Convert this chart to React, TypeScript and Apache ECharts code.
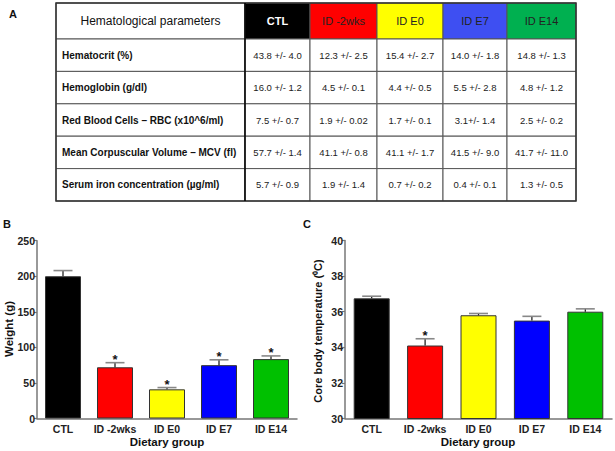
import React, { useEffect, useRef } from "react";
import * as echarts from "echarts";

// ---------- DATA ----------
const categories = ["CTL", "ID -2wks", "ID E0", "ID E7", "ID E14"];
const weightMean = [200, 72, 41, 75, 83.5];
const weightSem = [8, 6.5, 2.5, 7.5, 4.5];
const weightStar = [0, 1, 1, 1, 1];
const tempMean = [36.75, 34.1, 35.8, 35.5, 36.0];
const tempSem = [0.12, 0.38, 0.1, 0.24, 0.16];
const tempStar = [0, 1, 0, 0, 0];

const tableTitle = "Hematological parameters";
const tableParams = [
  "Hematocrit (%)",
  "Hemoglobin (g/dl)",
  "Red Blood Cells \u2013 RBC (x10^6/ml)",
  "Mean Corpuscular Volume \u2013 MCV (fl)",
  "Serum iron concentration (\u00b5g/ml)",
];
const ctlValues = ["43.8 +/- 4.0", "16.0 +/- 1.2", "7.5 +/- 0.7", "57.7 +/- 1.4", "5.7 +/- 0.9"];
const id2wksValues = ["12.3 +/- 2.5", "4.5 +/- 0.1", "1.9 +/- 0.02", "41.1 +/- 0.8", "1.9 +/- 1.4"];
const idE0Values = ["15.4 +/- 2.7", "4.4 +/- 0.5", "1.7 +/- 0.1", "41.1 +/- 1.7", "0.7 +/- 0.2"];
const idE7Values = ["14.0 +/- 1.8", "5.5 +/- 2.8", "3.1+/- 1.4", "41.5 +/- 9.0", "0.4 +/- 0.1"];
const idE14Values = ["14.8 +/- 1.3", "4.8 +/- 1.2", "2.5 +/- 0.2", "41.7 +/- 11.0", "1.3 +/- 0.5"];

// ---------- STYLE ----------
const FONT = "'Liberation Sans', Arial, sans-serif";
const barColors = ["#000000", "#ff0000", "#ffff00", "#0000ff", "#00c000"];
const headerColors = ["#000000", "#ff0000", "#ffff00", "#3e4ff2", "#00b050"];
const headerText = ["#ffffff", "#222222", "#222222", "#222222", "#222222"];
const colEdges = [56, 245, 310, 377, 443, 507, 576];
const rowEdges = [3, 39, 71.4, 103.8, 136.2, 168.6, 201];

function buildTable(): any[] {
  const els: any[] = [];
  const cols = [ctlValues, id2wksValues, idE0Values, idE7Values, idE14Values];
  // header
  els.push({
    type: "rect",
    shape: { x: colEdges[0], y: rowEdges[0], width: colEdges[1] - colEdges[0], height: rowEdges[1] - rowEdges[0] },
    style: { fill: "#fff", stroke: "#555", lineWidth: 1 },
  });
  els.push({
    type: "text",
    x: (colEdges[0] + colEdges[1]) / 2,
    y: (rowEdges[0] + rowEdges[1]) / 2,
    style: { text: tableTitle, font: `12px ${FONT}`, fill: "#111", textAlign: "center", textVerticalAlign: "middle" },
  });
  categories.forEach((c, j) => {
    els.push({
      type: "rect",
      shape: { x: colEdges[j + 1], y: rowEdges[0], width: colEdges[j + 2] - colEdges[j + 1], height: rowEdges[1] - rowEdges[0] },
      style: { fill: headerColors[j], stroke: "#555", lineWidth: 1 },
    });
    els.push({
      type: "text",
      x: (colEdges[j + 1] + colEdges[j + 2]) / 2,
      y: (rowEdges[0] + rowEdges[1]) / 2,
      style: {
        text: c,
        font: `${j === 0 ? "bold " : ""}11px ${FONT}`,
        fill: headerText[j],
        textAlign: "center",
        textVerticalAlign: "middle",
      },
    });
  });
  tableParams.forEach((p, i) => {
    const y0 = rowEdges[i + 1];
    const y1 = rowEdges[i + 2];
    els.push({
      type: "rect",
      shape: { x: colEdges[0], y: y0, width: colEdges[1] - colEdges[0], height: y1 - y0 },
      style: { fill: "#fff", stroke: "#555", lineWidth: 1 },
    });
    els.push({
      type: "text",
      x: colEdges[0] + 6,
      y: (y0 + y1) / 2,
      style: { text: p, font: `bold 10px ${FONT}`, fill: "#111", textAlign: "left", textVerticalAlign: "middle" },
    });
    cols.forEach((col, j) => {
      els.push({
        type: "rect",
        shape: { x: colEdges[j + 1], y: y0, width: colEdges[j + 2] - colEdges[j + 1], height: y1 - y0 },
        style: { fill: "#fff", stroke: "#555", lineWidth: 1 },
      });
      els.push({
        type: "text",
        x: (colEdges[j + 1] + colEdges[j + 2]) / 2,
        y: (y0 + y1) / 2,
        style: { text: col[i], font: `9.5px ${FONT}`, fill: "#222", textAlign: "center", textVerticalAlign: "middle" },
      });
    });
  });
  // outer border and the dark divider after the label column
  els.push({
    type: "rect",
    shape: { x: colEdges[0], y: rowEdges[0], width: colEdges[6] - colEdges[0], height: rowEdges[6] - rowEdges[0] },
    style: { fill: "none", stroke: "#333", lineWidth: 1.5 },
  });
  els.push({
    type: "line",
    shape: { x1: colEdges[1], y1: rowEdges[0], x2: colEdges[1], y2: rowEdges[6] },
    style: { stroke: "#000", lineWidth: 1.5 },
  });
  return els;
}

function errorRender(params: any, api: any) {
  const base = api.coord([api.value(0), api.value(1)]);
  const top = api.coord([api.value(0), api.value(2)]);
  const children: any[] = [
    { type: "line", shape: { x1: base[0], y1: base[1], x2: top[0], y2: top[1] }, style: { stroke: "#111", lineWidth: 1.2 } },
    { type: "line", shape: { x1: top[0] - 9.5, y1: top[1], x2: top[0] + 9.5, y2: top[1] }, style: { stroke: "#888", lineWidth: 1.6 } },
  ];
  if (api.value(3) > 0) {
    children.push({
      type: "text",
      x: top[0],
      y: top[1] - 3,
      style: { text: "*", font: `bold 13px ${FONT}`, fill: "#111", textAlign: "center", textVerticalAlign: "middle" },
    });
  }
  return { type: "group", children };
}

const axisLabelStyle = { fontFamily: FONT, fontWeight: "bold", fontSize: 10.5, color: "#222" };

export default function App() {
  const ref = useRef<HTMLDivElement>(null);
  useEffect(() => {
    if (!ref.current) return;
    const chart = echarts.init(ref.current, null, { renderer: "svg" });
    const errDataB = categories.map((_, i) => [i, weightMean[i], weightMean[i] + weightSem[i], weightStar[i]]);
    const errDataC = categories.map((_, i) => [i, tempMean[i], tempMean[i] + tempSem[i], tempStar[i]]);
    const mkX = (gi: number) => ({
      type: "category",
      gridIndex: gi,
      data: categories,
      axisLine: { lineStyle: { color: "#777", width: 1.5 } },
      axisTick: { show: false },
      axisLabel: { ...axisLabelStyle, margin: 5, interval: 0, hideOverlap: false },
    });
    const mkY = (gi: number, min: number, max: number, interval: number) => ({
      type: "value",
      gridIndex: gi,
      min,
      max,
      interval,
      axisLine: { show: true, lineStyle: { color: "#777", width: 1.5 } },
      axisTick: { show: true, length: 3, lineStyle: { color: "#777", width: 1.2 } },
      axisLabel: { ...axisLabelStyle, margin: 2 },
      splitLine: { show: false },
    });
    const txt = (t: string, x: number, y: number, size: number, rot = 0) => ({
      type: "text",
      x,
      y,
      rotation: rot,
      style: { text: t, font: `bold ${size}px ${FONT}`, fill: "#111", textAlign: "center", textVerticalAlign: "middle" },
    });
    chart.setOption({
      animation: false,
      backgroundColor: "#ffffff",
      grid: [
        { left: 37, top: 240.7, width: 260, height: 177.8 },
        { left: 345, top: 240.5, width: 267, height: 178 },
      ],
      xAxis: [mkX(0), mkX(1)],
      yAxis: [mkY(0, 0, 250, 50), mkY(1, 30, 40, 2)],
      series: [
        {
          type: "bar",
          xAxisIndex: 0,
          yAxisIndex: 0,
          barWidth: 36,
          data: weightMean.map((v, i) => ({ value: v, itemStyle: { color: barColors[i] } })),
          itemStyle: { borderColor: "#333", borderWidth: 1 },
        },
        {
          type: "custom",
          xAxisIndex: 0,
          yAxisIndex: 0,
          renderItem: errorRender,
          data: errDataB,
          z: 5,
        },
        {
          type: "bar",
          xAxisIndex: 1,
          yAxisIndex: 1,
          barWidth: 36,
          data: tempMean.map((v, i) => ({ value: v, itemStyle: { color: barColors[i] } })),
          itemStyle: { borderColor: "#333", borderWidth: 1 },
        },
        {
          type: "custom",
          xAxisIndex: 1,
          yAxisIndex: 1,
          renderItem: errorRender,
          data: errDataC,
          z: 5,
        },
      ],
      graphic: [
        ...buildTable(),
        txt("A", 13, 14, 11),
        txt("B", 7, 224, 11),
        txt("C", 307, 224, 11),
        txt("Weight (g)", 9, 329, 11.5, Math.PI / 2),
        txt("Core body temperature (\u2070C)", 318, 331, 11, Math.PI / 2),
        txt("Dietary group", 167, 442, 11.5),
        txt("Dietary group", 478, 442, 11.5),
      ],
    });
    return () => chart.dispose();
  }, []);
  return (
    <div
      ref={ref}
      style={{ position: "fixed", left: 0, top: 0, width: 615, height: 451, background: "#fff" }}
    />
  );
}
